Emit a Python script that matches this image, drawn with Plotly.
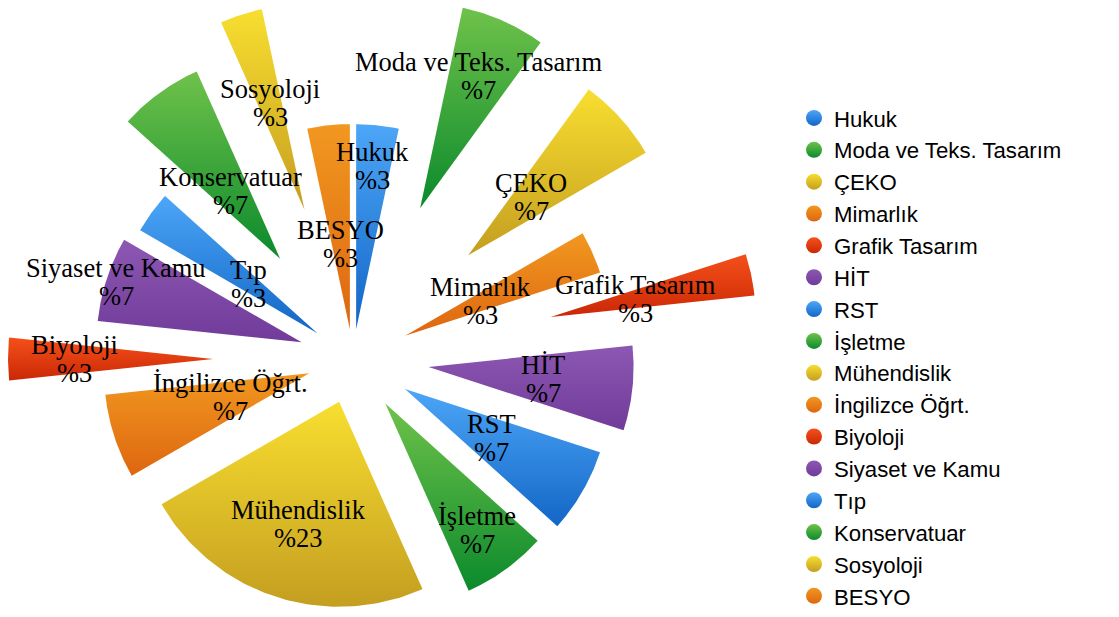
import numpy as np
import plotly.graph_objects as go

# ---------------- data ----------------
categories = ["Hukuk", "Moda ve Teks. Tasarım", "ÇEKO", "Mimarlık", "Grafik Tasarım",
              "HİT", "RST", "İşletme", "Mühendislik", "İngilizce Öğrt.", "Biyoloji",
              "Siyaset ve Kamu", "Tıp", "Konservatuar", "Sosyoloji", "BESYO"]
counts = [1, 2, 2, 1, 1, 2, 2, 2, 7, 2, 1, 2, 1, 2, 1, 1]

# ---------------- styles ----------------
PAGE_OFF = 8                         # browser body margin
W, H = 1119 - PAGE_OFF, 617 - PAGE_OFF
CX, CY = 353 - PAGE_OFF, 359 - PAGE_OFF   # pie centre in figure pixels
RADIUS = 205                         # wedge radius (px)
PULL = [30, 165, 155, 57, 202, 76, 60, 55, 45, 46, 140, 54, 44, 124, 157, 30]  # explode (px)

BLUE = ("#4DA6F7", "#1266C6")
GREEN = ("#6FC24A", "#0B8A2C")
YELLOW = ("#F8DE30", "#C49E20")
ORANGE = ("#F19820", "#DE6610")
RED = ("#F5501A", "#CA2806")
PURPLE = ("#8C58B3", "#713B99")
COLORS = [BLUE, GREEN, YELLOW, ORANGE, RED, PURPLE, BLUE, GREEN, YELLOW, ORANGE,
          RED, PURPLE, BLUE, GREEN, YELLOW, ORANGE]

# label positions (page pixels, centre of the name line)
LABEL_XY = [(372, 152), (478, 62), (531, 183), (480, 287), (635, 285), (543, 365),
            (491, 424), (477, 516), (298, 510), (230, 383), (74, 345), (116, 268),
            (248, 270), (230, 177), (270, 89), (340, 230)]
LINE_GAP = 28

total = sum(counts)
pct_labels = ["%" + str(int(round(100 * c / total))) for c in counts]

fig = go.Figure()
start = 0
for i, (cat, c) in enumerate(zip(categories, counts)):
    a0 = 360.0 * start / total
    a1 = 360.0 * (start + c) / total
    start += c
    mid = np.radians((a0 + a1) / 2)
    tx, ty = PULL[i] * np.sin(mid), PULL[i] * np.cos(mid)
    angs = np.radians(np.linspace(a0, a1, 80))
    xs = np.concatenate([[tx], tx + RADIUS * np.sin(angs), [tx]])
    ys = np.concatenate([[ty], ty + RADIUS * np.cos(angs), [ty]])
    top, bot = COLORS[i]
    fig.add_trace(go.Scatter(
        x=xs, y=ys, mode="lines", fill="toself",
        line=dict(width=0, color=top),
        fillgradient=dict(type="vertical", colorscale=[[0, bot], [1, top]],
                          start=float(ys.min()), stop=float(ys.max())),
        name=cat, legendgroup=cat, showlegend=False,
        hovertemplate=f"{cat}: {pct_labels[i]}<extra></extra>"))

# legend entries
for i, cat in enumerate(categories):
    top, bot = COLORS[i]
    fig.add_trace(go.Scatter(
        x=[None], y=[None], mode="markers", name=cat, legendgroup=cat,
        marker=dict(symbol="circle", size=20, color=top,
                    gradient=dict(type="vertical", color=bot), line=dict(width=0))))

annotations = []
serif = dict(family="Liberation Serif, Times New Roman, serif", size=26.5, color="black")
for i, cat in enumerate(categories):
    lx, ly = LABEL_XY[i]
    lx, ly = lx - PAGE_OFF, ly - PAGE_OFF
    annotations.append(dict(x=lx - CX, y=CY - ly, text=cat, showarrow=False,
                            font=serif, xanchor="center", yanchor="middle"))
    annotations.append(dict(x=lx - CX, y=CY - (ly + LINE_GAP), text=pct_labels[i],
                            showarrow=False, font=serif, xanchor="center", yanchor="middle"))

fig.update_layout(
    width=W, height=H, margin=dict(l=0, r=0, t=0, b=0, autoexpand=False),
    paper_bgcolor="white", plot_bgcolor="white",
    xaxis=dict(range=[-CX, W - CX], visible=False, fixedrange=True),
    yaxis=dict(range=[CY - H, CY], visible=False, fixedrange=True),
    showlegend=True,
    legend=dict(x=(794 - PAGE_OFF) / W, xanchor="left", y=0, yanchor="bottom",
                font=dict(family="Liberation Sans, Arial, Helvetica, sans-serif",
                          size=22.2, color="black"),
                tracegroupgap=0,
                bgcolor="rgba(0,0,0,0)", itemsizing="trace"),
    annotations=annotations,
)

fig.write_html("out.html")
